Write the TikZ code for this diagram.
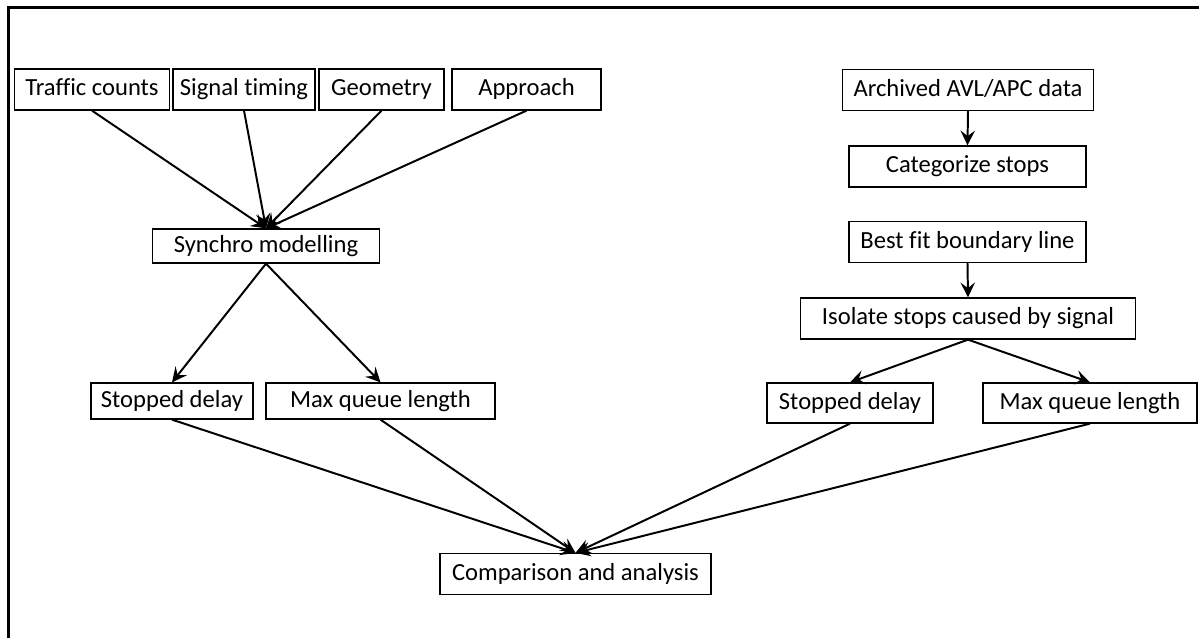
\documentclass[tikz,border=0pt]{standalone}
\usepackage{fontspec}
\setmainfont{Carlito}[Ligatures=CommonOff]
\usepackage{tikz}
\usetikzlibrary{arrows.meta}

\tikzset{
  box/.style={rectangle, draw=black, line width=0.9pt, minimum height=10.25mm, inner sep=0pt,
    text height=12.5pt, text depth=3.5pt, font=\fontsize{17.5}{21}\selectfont},
  link/.style={-{Stealth[length=3.7mm, width=3.6mm, inset=1.4mm]}, line width=1.4pt}
}

\begin{document}
\begin{tikzpicture}[x=0.25mm, y=-0.25mm]
\useasboundingbox (0,0) rectangle (1199,638);
% frame
\draw [line width=0.75mm] (8,638) -- (8,7.5) -- (1199,7.5);
% left branch
\node [box, minimum width=38.75mm] (traffic) at (92,89.5) {Traffic counts};
\node [box, minimum width=35.5mm] (timing) at (244,89.5) {Signal timing};
\node [box, minimum width=31.25mm] (geometry) at (381.5,89.5) {Geometry};
\node [box, minimum width=37.25mm] (approach) at (526.5,89.5) {Approach};
\node [box, minimum width=56.75mm, minimum height=8.5mm] (synchro) at (266,246) {Synchro modelling};
\node [box, minimum width=40.5mm, minimum height=9mm] (delayL) at (172,401) {Stopped delay};
\node [box, minimum width=57.25mm, minimum height=9mm] (queueL) at (380.5,401) {Max queue length};
% right branch
\node [box, minimum width=62.75mm] (avl) at (968,90) {Archived AVL/APC data};
\node [box, minimum width=59.25mm] (categorize) at (967.5,166.5) {Categorize stops};
\node [box, minimum width=59.25mm] (boundary) at (967.5,242) {Best fit boundary line};
\node [box, minimum width=83.9mm] (isolate) at (968,318.5) {Isolate stops caused by signal};
\node [box, minimum width=41.5mm, minimum height=10mm] (delayR) at (850,403) {Stopped delay};
\node [box, minimum width=53.5mm, minimum height=10mm] (queueR) at (1090,403) {Max queue length};
% result
\node [box, minimum width=67.75mm] (compare) at (575.5,574) {Comparison and analysis};

\draw [link] (traffic.south) to (synchro.north);
\draw [link] (timing.south) to (synchro.north);
\draw [link] (geometry.south) to (synchro.north);
\draw [link] (approach.south) to (synchro.north);
\draw [link] (synchro.south) to (delayL.north);
\draw [link] (synchro.south) to (queueL.north);
\draw [link] (avl.south) to (categorize.north);
\draw [link] (boundary.south) to (isolate.north);
\draw [link] (isolate.south) to (delayR.north);
\draw [link] (isolate.south) to (queueR.north);
\draw [link] (delayL.south) to (compare.north);
\draw [link] (queueL.south) to (compare.north);
\draw [link] (delayR.south) to (compare.north);
\draw [link] (queueR.south) to (compare.north);
\end{tikzpicture}
\end{document}
